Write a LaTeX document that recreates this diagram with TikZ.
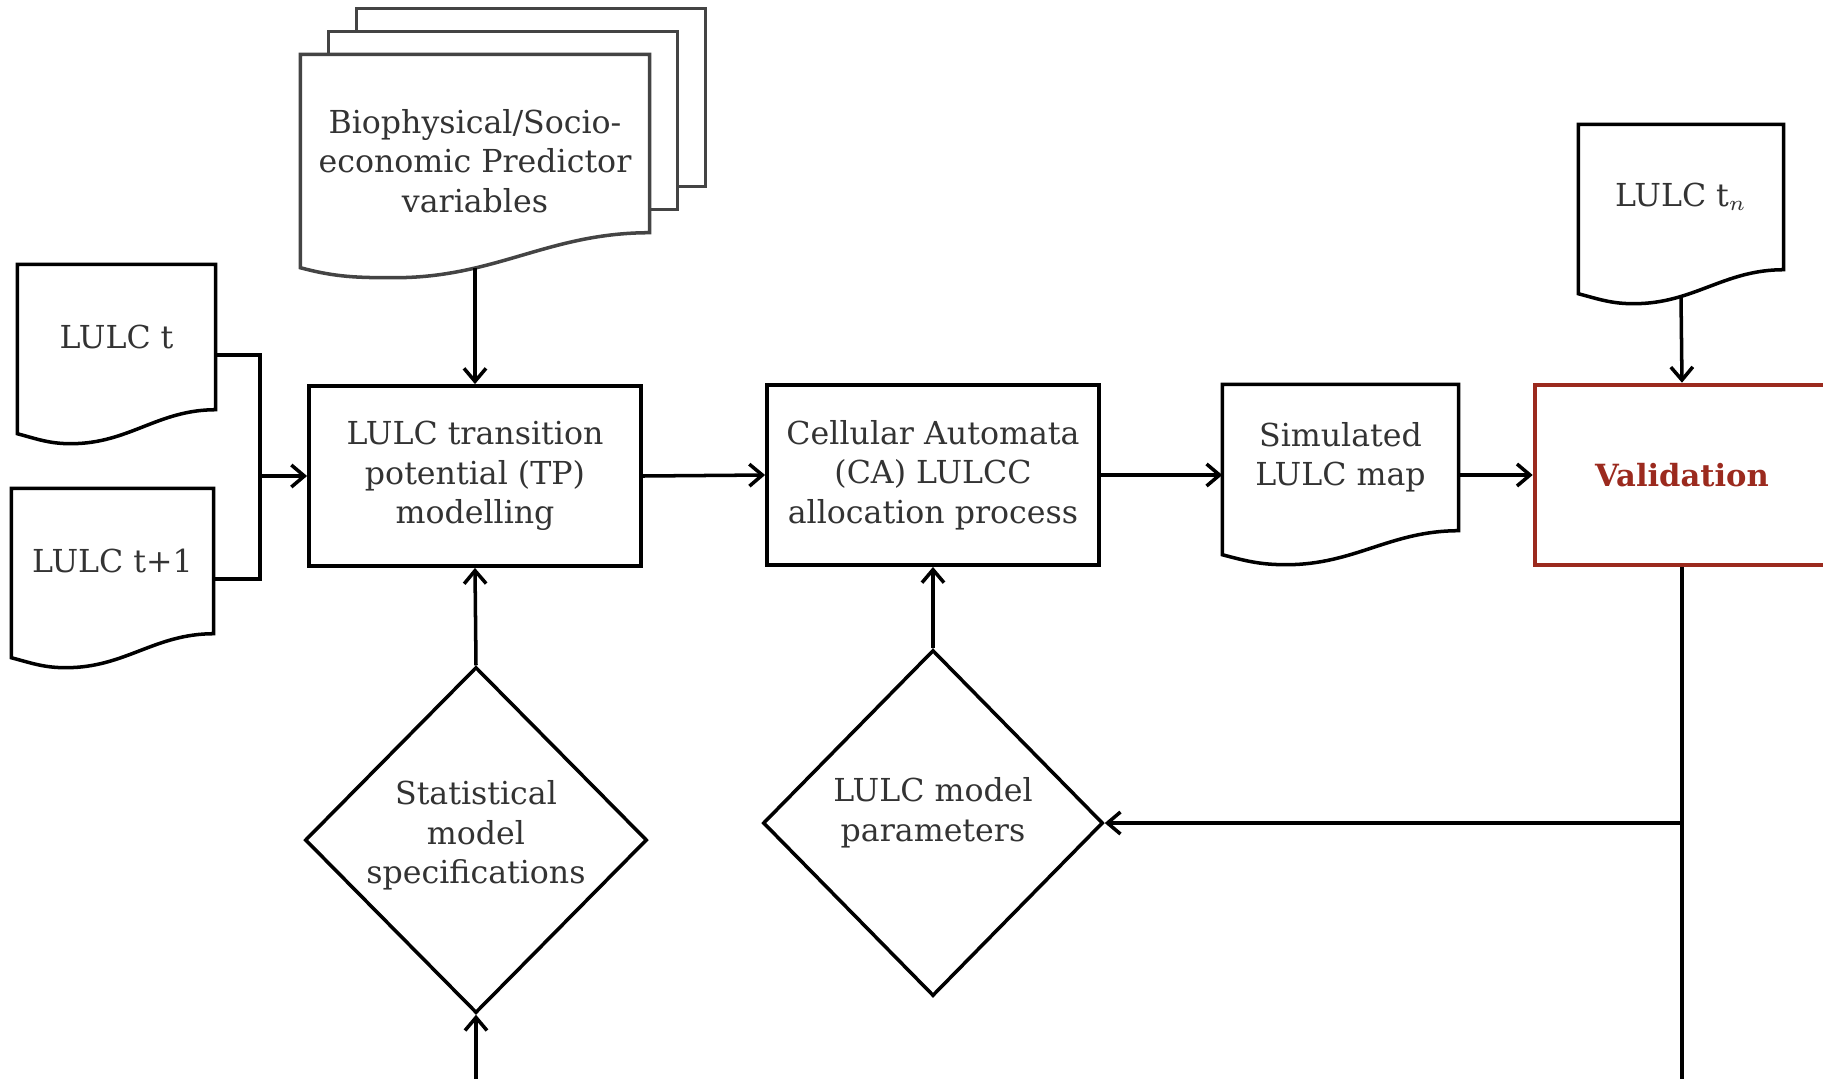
\documentclass[tikz,border=0pt]{standalone}
\usepackage{fontspec}
\setmainfont{DejaVu Serif}
\usetikzlibrary{arrows.meta, positioning, shapes.geometric, calc}

\definecolor{valred}{HTML}{9B2A1E}
\definecolor{txtgray}{HTML}{333333}
\definecolor{sheetgray}{HTML}{444444}

\pgfdeclarelayer{background}
\pgfsetlayers{background,main}

% outline of a document node: name, right end, left end, dip of the wave
\newcommand{\docoutline}[5][]{%
  \draw[#1] ($(#2.south east)+(0,#3)$) -- (#2.north east) -- (#2.north west)
    -- ($(#2.south west)+(0,#4)$)
    to[out=-15, in=180] ($(#2.south west)!0.27!(#2.south east)+(0,#5)$)
    to[out=0, in=180] ($(#2.south east)+(0,#3)$) -- cycle;}

\begin{document}
\begin{tikzpicture}[font=\fontsize{9}{11.2}\selectfont,
      doc/.style={rectangle, minimum height=1.44cm, inner sep=0pt, align=center, text=txtgray},
      block/.style={rectangle, draw, line width=1.1pt, minimum width=3.32cm, minimum height=1.8cm, align=center, text=txtgray},
      valid/.style={rectangle, draw=valred, line width=1.3pt, minimum width=2.94cm, minimum height=1.8cm, text=valred, font=\fontsize{8.7}{11}\selectfont\bfseries},
      decision/.style={diamond, draw, line width=1pt, minimum height=3.46cm, inner sep=0pt, align=center, text=txtgray},
      line/.style={line width=1pt},
      arrow/.style={line width=1pt, -{Straight Barb[length=1.3mm, width=2.2mm]}}]

      \useasboundingbox (0,0) rectangle (18.23,-10.79);

      \node[doc, minimum width=3.48cm, minimum height=2.12cm] (bio) at (4.75,-1.61) {Biophysical/Socio-\\economic Predictor\\variables};
      \node[doc, minimum width=1.97cm] (lulct) at (1.165,-3.37) {LULC t};
      \node[doc, minimum width=2.01cm] (lulct1) at (1.125,-5.61) {LULC t+1};
      \node[doc, minimum width=2.04cm] (lulctn) at (16.81,-1.97) {LULC t$_n$};
      \node[doc, minimum width=2.35cm, minimum height=1.45cm] (sim) at (13.405,-4.575) {Simulated\\LULC map};
      \node[block] (tp) at (4.75,-4.76) {LULC transition\\potential (TP)\\modelling};
      \node[block] (ca) at (9.33,-4.75) {Cellular Automata\\(CA) LULCC\\allocation process};
      \node[valid] (valid) at (16.82,-4.75) {Validation};
      \node[decision, minimum width=3.42cm, text depth=0.16cm] (stat) at (4.76,-8.40) {Statistical\\model\\specifications};
      \node[decision, minimum width=3.40cm, text depth=0.27cm] (param) at (9.33,-8.23) {LULC model\\parameters};

      % Document shapes
      \begin{pgfonlayer}{background}
        \foreach \dx/\dy in {0.56/0.46, 0.28/0.23} {
          \draw[sheetgray, fill=white, line width=1pt] ([shift={(\dx,\dy)}]bio.north west) rectangle ([shift={(\dx,\dy+0.35)}]bio.south east);
        }
        \docoutline[sheetgray, fill=white, line width=1pt]{bio}{0.35}{0}{-0.10}
        \foreach \d in {lulct, lulct1, lulctn, sim} {
          \docoutline[line width=1pt]{\d}{0}{-0.24}{-0.34}
        }
      \end{pgfonlayer}

      % Inputs
      \coordinate (join) at ($(tp.west)+(-0.47,0)$);
      \draw[line] ([yshift=-1.8mm]lulct.east) -| (join) |- ([yshift=-1.8mm]lulct1.east);
      \draw[arrow] (join) -- (tp.west);
      \draw[arrow] (bio.south) -- (tp.north);
      \draw[arrow] ([yshift=-2.6mm]lulctn.south) -- (valid.north);

      % Arrows
      \draw[arrow] (tp.east) -- (ca.west);
      \draw[arrow] (ca.east) -- (sim.west |- ca.east);
      \draw[arrow] (sim.east |- valid.west) -- (valid.west);
      \draw[arrow] (stat.north) -- (tp.south);
      \draw[arrow] (param.north) -- (ca.south);
      \coordinate (statin) at (4.76,-10.85);
      \draw[arrow] (statin) -- (stat.south);

      % Feedback from validation
      \coordinate (valout) at (16.82,-10.85);
      \draw[line] (valid.south) -- (valout);
      \draw[arrow] (valid.south |- param.east) -- (param.east);
    \end{tikzpicture}
\end{document}
